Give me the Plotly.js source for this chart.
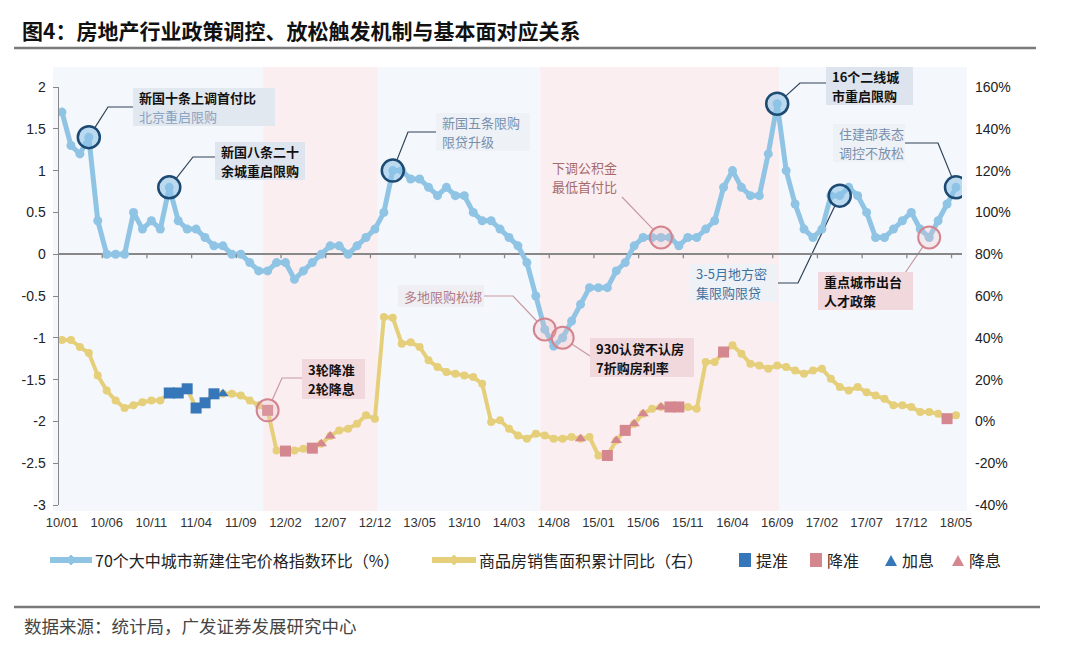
<!DOCTYPE html>
<html><head><meta charset="utf-8">
<script src="https://cdn.plot.ly/plotly-3.0.1.min.js"></script>
<style>html,body{margin:0;padding:0;background:#fff;}#chart{width:1080px;height:657px;}</style>
</head><body><div id="chart"></div>
<script>
// ---------- categories ----------
const months = [];
for (let y = 2010; y <= 2018; y++) {
  for (let mo = 1; mo <= 12; mo++) {
    if (y === 2018 && mo > 5) break;
    months.push(y + '-' + String(mo).padStart(2, '0'));
  }
}
const tickMonths = ['2010-01','2010-06','2010-11','2011-04','2011-09','2012-02','2012-07','2012-12','2013-05','2013-10','2014-03','2014-08','2015-01','2015-06','2015-11','2016-04','2016-09','2017-02','2017-07','2017-12','2018-05'];
const tickLabels = ['10/01','10/06','10/11','11/04','11/09','12/02','12/07','12/12','13/05','13/10','14/03','14/08','15/01','15/06','15/11','16/04','16/09','17/02','17/07','17/12','18/05'];

// ---------- series ----------
// 70个大中城市新建住宅价格指数环比（%） – left axis
const priceMoM = [
  1.7, 1.3, 1.2, 1.4, 0.4, 0.0, 0.0, 0.0, 0.5, 0.3, 0.4, 0.3,        // 2010
  0.8, 0.4, 0.3, 0.3, 0.2, 0.1, 0.1, 0.0, 0.0, -0.1, -0.2, -0.2,     // 2011
  -0.1, -0.1, -0.3, -0.2, -0.1, 0.0, 0.1, 0.1, 0.0, 0.1, 0.2, 0.3,   // 2012
  0.5, 1.0, 1.0, 0.9, 0.9, 0.8, 0.7, 0.8, 0.7, 0.7, 0.5, 0.4,        // 2013
  0.4, 0.3, 0.2, 0.1, -0.1, -0.5, -0.9, -1.1, -1.0, -0.8, -0.6, -0.4, // 2014
  -0.4, -0.4, -0.2, -0.1, 0.1, 0.2, 0.2, 0.2, 0.2, 0.1, 0.2, 0.2,    // 2015
  0.3, 0.4, 0.8, 1.0, 0.8, 0.7, 0.7, 1.2, 1.8, 1.0, 0.6, 0.3,        // 2016
  0.2, 0.3, 0.7, 0.7, 0.8, 0.7, 0.5, 0.2, 0.2, 0.3, 0.4, 0.5,        // 2017
  0.3, 0.2, 0.4, 0.6, 0.8                                            // 2018
];
// 商品房销售面积累计同比（右） – right axis, %
const salesYoY = [
  39, 39, 35.6, 32.7, 22, 14.8, 10, 6.4, 7.7, 9.2, 10, 10,
  13.6, 13.6, 15.6, 6.4, 8.9, 13.2, 13.2, 13.2, 12.4, 10, 7.7, 5.3,
  -13.9, -14.2, -13.9, -13.1, -12.8, -10.7, -7, -4.3, -3.5, -1.1, 2.9, 1.3,
  49.9, 49.6, 37.2, 37.9, 35.6, 29.2, 26, 23.6, 22.8, 22, 21.2, 18,
  -0.3, 0.5, -3.5, -6.7, -8.3, -5.9, -6.7, -8.3, -8.3, -7.5, -8.3, -7.5,
  -16.3, -16.3, -9.1, -4.3, -1.1, 3.7, 6.1, 6.9, 6.9, 6.9, 6.9, 6.0,
  28.4, 28.4, 33.2, 36.4, 32.4, 27.6, 26.8, 25.2, 26.8, 26, 24.4, 22.8,
  24.4, 25.2, 20.4, 16.4, 14.8, 16.4, 14, 12.4, 10.8, 7.7, 7.7, 6.9,
  4.5, 4.5, 3.7, 1.3, 2.9
];
// policy events
const rrrHikeMonths = ['2011-01','2011-02','2011-03','2011-04','2011-05','2011-06'];  // 提准
const rrrCutMonths = ['2011-12','2012-02','2012-05','2015-02','2015-04','2015-09','2015-10','2016-03','2018-04']; // 降准
const rateHikeMonths = ['2011-07'];  // 加息
const rateCutMonths = ['2012-06','2012-07','2014-11','2015-03','2015-05','2015-06','2015-08']; // 降息
// highlighted points
const tightenCircleMonths = ['2010-04','2011-01','2013-02','2016-09','2017-04','2018-05'];
const easeCircleMonths = ['2014-07','2014-09','2015-08','2018-02'];
const easeCircleSalesMonths = ['2011-12'];

// ---------- geometry helpers ----------
const L = 59, R = 962, T = 87, B = 505;
const X0 = -0.336, X1 = 100.67;
const idx = m => months.indexOf(m);
const pick = (list, s) => list.map(m => s[idx(m)]);
const px = i => L + (i - X0) / (X1 - X0) * (R - L);
const pyL = v => B - (v + 3) / 5 * (B - T);
const pyR = p => B - (p + 40) / 200 * (B - T);
const fx = x => (x - L) / (R - L);
const fy = y => (B - y) / (B - T);

const BLUE = '#8fc4e5', YEL = '#e6cf7a', BSQ = '#3577b8', PSQ = '#d5878f';
const CJK = '"Noto Sans CJK SC","Noto Sans",sans-serif';
const NUM = '"Liberation Sans",Arial,sans-serif';

const traces = [
  { x: months, y: priceMoM, type: 'scatter', mode: 'lines+markers', name: '70个大中城市新建住宅价格指数环比（%）',
    line: { color: BLUE, width: 5 }, marker: { color: BLUE, size: 9 }, showlegend: false },
  { x: months, y: salesYoY, yaxis: 'y2', type: 'scatter', mode: 'lines+markers', name: '商品房销售面积累计同比（右）',
    line: { color: YEL, width: 4 }, marker: { color: YEL, size: 8 }, showlegend: false },
  { x: rrrHikeMonths, y: pick(rrrHikeMonths, salesYoY), yaxis: 'y2', mode: 'markers', name: '提准',
    marker: { symbol: 'square', size: 11, color: BSQ }, showlegend: false },
  { x: rrrCutMonths, y: pick(rrrCutMonths, salesYoY), yaxis: 'y2', mode: 'markers', name: '降准',
    marker: { symbol: 'square', size: 11, color: PSQ }, showlegend: false },
  { x: rateHikeMonths, y: pick(rateHikeMonths, salesYoY), yaxis: 'y2', mode: 'markers', name: '加息',
    marker: { symbol: 'triangle-up', size: 10, color: BSQ }, showlegend: false },
  { x: rateCutMonths, y: pick(rateCutMonths, salesYoY), yaxis: 'y2', mode: 'markers', name: '降息',
    marker: { symbol: 'triangle-up', size: 10, color: PSQ }, showlegend: false },
  { x: tightenCircleMonths, y: pick(tightenCircleMonths, priceMoM), mode: 'markers', hoverinfo: 'skip',
    marker: { symbol: 'circle', size: 22, color: 'rgba(140,195,232,0.55)', line: { color: '#1c4a72', width: 2.5 } }, showlegend: false },
  { x: easeCircleMonths, y: pick(easeCircleMonths, priceMoM), mode: 'markers', hoverinfo: 'skip',
    marker: { symbol: 'circle', size: 22, color: 'rgba(230,190,195,0.25)', line: { color: '#d4848e', width: 2 } }, showlegend: false },
  { x: easeCircleSalesMonths, y: pick(easeCircleSalesMonths, salesYoY), yaxis: 'y2', mode: 'markers', hoverinfo: 'skip',
    marker: { symbol: 'circle', size: 22, color: 'rgba(230,190,195,0.25)', line: { color: '#d4848e', width: 2 } }, showlegend: false }
];

// ---------- shapes ----------
const shapes = [];
shapes.push({ type: 'rect', xref: 'paper', yref: 'paper', x0: fx(53), x1: fx(967), y0: fy(511), y1: fy(67),
  fillcolor: '#f4f7fb', line: { width: 0 }, layer: 'below' });
[[22.5, 35.3], [53.5, 80.2]].forEach(b => shapes.push({ type: 'rect', xref: 'paper', yref: 'paper',
  x0: fx(px(b[0])), x1: fx(px(b[1])), y0: fy(511), y1: fy(67), fillcolor: '#fbeef0', line: { width: 0 }, layer: 'below' }));
for (let k = 1; k <= 20; k++) {
  const xx = px(k * 5 - 0.5);
  shapes.push({ type: 'line', xref: 'paper', yref: 'paper', x0: fx(xx), x1: fx(xx), y0: fy(pyL(0)), y1: fy(pyL(0) + 4),
    line: { color: '#888', width: 1.3 } });
}
shapes.push({ type: 'line', xref: 'paper', yref: 'paper', x0: fx(14), x1: fx(1036), y0: fy(48), y1: fy(48), line: { color: '#7a7a7a', width: 2.5 } });
shapes.push({ type: 'line', xref: 'paper', yref: 'paper', x0: fx(14), x1: fx(1040), y0: fy(607), y1: fy(607), line: { color: '#7a7a7a', width: 2.5 } });

function connector(pts, color, fromCircleEnd) {
  const p = pts.map(a => a.slice());
  const trim = (a, b) => { const dx = b[0] - a[0], dy = b[1] - a[1], d = Math.hypot(dx, dy); a[0] += dx / d * 11; a[1] += dy / d * 11; };
  if (fromCircleEnd) trim(p[p.length - 1], p[p.length - 2]); else trim(p[0], p[1]);
  const path = p.map((a, i) => (i ? 'L ' : 'M ') + fx(a[0]) + ' ' + fy(a[1])).join(' ');
  shapes.push({ type: 'path', xref: 'paper', yref: 'paper', path: path, line: { color: color, width: 1.2 }, layer: 'below' });
}
const cB = m => [px(idx(m)), pyL(priceMoM[idx(m)])];
const cY = m => [px(idx(m)), pyR(salesYoY[idx(m)])];
const DARK = '#2e4257', PINKL = '#c79aa0';
connector([cB('2010-04'), [108, 107], [133, 107]], DARK);
connector([cB('2011-01'), [193, 157], [215, 157]], DARK);
connector([cB('2013-02'), [408, 132], [436, 132]], DARK);
connector([cB('2015-08'), [622, 197]], PINKL);
connector([cB('2016-09'), [800, 83], [826, 83]], DARK);
connector([[905, 143], [938, 143], cB('2018-05')], DARK, true);
connector([cB('2017-04'), [798, 283], [778, 283]], DARK);
connector([cB('2018-02'), [905, 273]], PINKL);
connector([[484, 296], [513, 296], cB('2014-07')], PINKL, true);
connector([cB('2014-09'), [590, 356]], PINKL);
connector([cY('2011-12'), [282, 378], [302, 378]], PINKL);

// legend
const LY = 560;
function legendLine(x0, x1, color) {
  shapes.push({ type: 'line', xref: 'paper', yref: 'paper', x0: fx(x0), x1: fx(x1), y0: fy(LY), y1: fy(LY), line: { color: color, width: 6 } });
  const c = (x0 + x1) / 2;
  shapes.push({ type: 'path', xref: 'paper', yref: 'paper', fillcolor: color, line: { color: color, width: 1 },
    path: `M ${fx(c - 5)} ${fy(LY)} L ${fx(c)} ${fy(LY - 5)} L ${fx(c + 5)} ${fy(LY)} L ${fx(c)} ${fy(LY + 5)} Z` });
}
legendLine(50, 92, BLUE);
legendLine(432, 476, YEL);
function legendSq(x, color) {
  shapes.push({ type: 'rect', xref: 'paper', yref: 'paper', x0: fx(x), x1: fx(x + 12), y0: fy(LY + 7), y1: fy(LY - 7), fillcolor: color, line: { width: 0 } });
}
function legendTri(x, color) {
  shapes.push({ type: 'path', xref: 'paper', yref: 'paper', fillcolor: color, line: { width: 0 },
    path: `M ${fx(x)} ${fy(LY + 6)} L ${fx(x + 12)} ${fy(LY + 6)} L ${fx(x + 6)} ${fy(LY - 5)} Z` });
}
legendSq(739, BSQ); legendSq(810, PSQ); legendTri(885, BSQ); legendTri(952, PSQ);

// ---------- annotation boxes (background rect + one text per line) ----------
const annotations = [];
function text(x, y, t, size, color) {
  annotations.push({ xref: 'paper', yref: 'paper', x: fx(x), y: fy(y), xanchor: 'left', yanchor: 'middle',
    text: t, showarrow: false, font: { family: CJK, size: size, color: color } });
}
// box: [x0, x1, y0, y1], lines: [[text, color], ...]
function box(ext, bg, lines) {
  if (bg) shapes.push({ type: 'rect', xref: 'paper', yref: 'paper', x0: fx(ext[0]), x1: fx(ext[1]), y0: fy(ext[3]), y1: fy(ext[2]),
    fillcolor: bg, line: { width: 0 } });
  const gap = 19, h = ext[3] - ext[2];
  const first = ext[2] + h / 2 - gap * (lines.length - 1) / 2;
  lines.forEach((ln, i) => text(ext[0] + 4, first + i * gap, ln[0], 13, ln[1]));
}
const BK = '#111', GB = '#7890ae';
box([133, 275, 88, 126], '#e2e8f0', [['<b>新国十条上调首付比</b>', BK], ['北京重启限购', '#8aa3c0']]);
box([215, 305, 142, 180], '#dfe5ee', [['<b>新国八条二十</b>', BK], ['<b>余城重启限购</b>', BK]]);
box([436, 530, 113, 151], '#eef1f5', [['新国五条限购', GB], ['限贷升级', GB]]);
box([546, 622, 158, 196], null, [['下调公积金', '#a66b6b'], ['最低首付比', '#a66b6b']]);
box([826, 913, 67, 105], '#dde4ee', [['<b>16个二线城</b>', BK], ['<b>市重启限购</b>', BK]]);
box([833, 905, 124, 162], '#eef1f5', [['住建部表态', GB], ['调控不放松', GB]]);
box([690, 778, 264, 302], '#eef2f6', [['3-5月地方密', '#3f71a0'], ['集限购限贷', '#3f71a0']]);
box([818, 913, 272, 310], '#f1d8dd', [['<b>重点城市出台</b>', BK], ['<b>人才政策</b>', BK]]);
box([398, 484, 285, 307], '#efeff3', [['多地限购松绑', '#b27b86']]);
box([590, 694, 338, 377], '#f1d8dd', [['<b>930认贷不认房</b>', BK], ['<b>7折购房利率</b>', BK]]);
box([302, 365, 359, 399], '#f1d8dd', [['<b>3轮降准</b>', BK], ['<b>2轮降息</b>', BK]]);

text(93, LY, '70个大中城市新建住宅价格指数环比（%）', 16, '#222');
text(477, LY, '商品房销售面积累计同比（右）', 16, '#222');
text(754, LY, '提准', 16, '#222');
text(825, LY, '降准', 16, '#222');
text(900, LY, '加息', 16, '#222');
text(967, LY, '降息', 16, '#222');
text(22, 625, '数据来源：统计局，广发证券发展研究中心', 17.5, '#444');

// ---------- layout ----------
const leftTicks = [-3, -2.5, -2, -1.5, -1, -0.5, 0, 0.5, 1, 1.5, 2];
const leftTickText = ['-3', '-2.5', '-2', '-1.5', '-1', '-0.5', '0', '0.5', '1', '1.5', '2'];
const rightTicks = [-40, -20, 0, 20, 40, 60, 80, 100, 120, 140, 160];
const rightTickText = ['-40%', '-20%', '0%', '20%', '40%', '60%', '80%', '100%', '120%', '140%', '160%'];

const layout = {
  width: 1080, height: 657,
  margin: { l: L, r: 1080 - R, t: T, b: 657 - B, pad: 0 },
  paper_bgcolor: '#ffffff', plot_bgcolor: 'rgba(0,0,0,0)',
  title: { text: '<b>图4：房地产行业政策调控、放松触发机制与基本面对应关系</b>', xref: 'container', yref: 'container',
    x: 22 / 1080, xanchor: 'left', y: 1 - 32 / 657, yanchor: 'middle', font: { family: CJK, size: 21, color: '#111' } },
  showlegend: false,
  xaxis: { type: 'category', range: [X0, X1], tickvals: tickMonths, ticktext: tickLabels, showgrid: false, zeroline: false,
    showline: false, ticks: '', ticklabelstandoff: 8, tickangle: 0, tickfont: { family: NUM, size: 13, color: '#333' }, fixedrange: true },
  yaxis: { range: [-3, 2], tickvals: leftTicks, ticktext: leftTickText, showgrid: false, zeroline: true, zerolinecolor: '#888', zerolinewidth: 1.5,
    showline: true, linecolor: '#888', linewidth: 1.5, ticks: 'outside', ticklen: 5, tickcolor: '#888', ticklabelstandoff: 4,
    tickfont: { family: NUM, size: 14, color: '#222' }, fixedrange: true },
  yaxis2: { overlaying: 'y', side: 'right', range: [-40, 160], tickvals: rightTicks, ticktext: rightTickText, showgrid: false,
    zeroline: false, showline: false, ticks: '', ticklabelstandoff: 12, tickfont: { family: NUM, size: 14, color: '#222' }, fixedrange: true },
  shapes: shapes,
  annotations: annotations
};
Plotly.newPlot('chart', traces, layout, { displayModeBar: false, staticPlot: true });
</script></body></html>
